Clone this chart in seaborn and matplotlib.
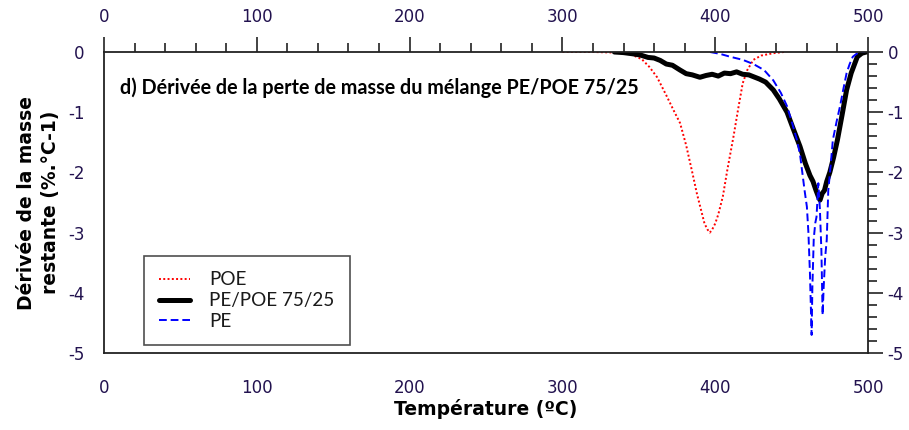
import numpy as np
import pandas as pd
import matplotlib
matplotlib.use("Agg")
import matplotlib.pyplot as plt
from matplotlib.ticker import MultipleLocator
import seaborn as sns

# Temperature (°C) and derivative of remaining mass (%.°C-1)
poe_t = [300, 320, 335, 345, 352, 357, 362, 368, 373, 377, 381, 385, 388, 391, 393,
         395, 396.5, 398, 400, 402, 405, 408, 412, 415, 418, 421, 425, 430, 438, 445]
poe_d = [0.0, 0.0, -0.01, -0.04, -0.12, -0.25, -0.42, -0.72, -0.98, -1.18, -1.55,
         -2.0, -2.35, -2.65, -2.85, -2.95, -3.0, -2.95, -2.85, -2.7, -2.4, -1.95,
         -1.4, -0.95, -0.52, -0.3, -0.13, -0.06, -0.02, 0.0]

blend_t = [334, 340, 346, 351, 356, 360, 364, 368, 372, 377, 381, 385, 390, 394,
           398, 402, 406, 410, 414, 418, 422, 425, 429, 433, 438, 442, 447, 451,
           455.5, 459, 462, 464, 466, 467.5, 468.6, 470, 471.5, 473, 475, 477.5,
           480, 483, 486, 489, 493, 496, 499, 500]
blend_d = [0.0, -0.01, -0.03, -0.05, -0.09, -0.1, -0.14, -0.2, -0.22, -0.3, -0.36,
           -0.38, -0.42, -0.39, -0.37, -0.4, -0.35, -0.36, -0.33, -0.37, -0.38,
           -0.41, -0.45, -0.5, -0.63, -0.78, -1.0, -1.27, -1.57, -1.85, -2.05,
           -2.15, -2.3, -2.4, -2.46, -2.35, -2.3, -2.15, -2.0, -1.75, -1.46, -1.05,
           -0.63, -0.35, -0.08, -0.02, 0.0, 0.0]

pe_t = [396.6, 403, 410, 418, 425, 432, 438, 443, 447, 450, 453.5, 455.5, 457,
        458.5, 460, 461, 462, 463.1, 463.6, 464.5, 465.5, 466.3, 467.5, 468.5,
        469.5, 470.3, 471, 472, 473, 474, 475.5, 477, 479.5, 481.7, 484, 486,
        488, 490, 492.5, 495, 498]
pe_d = [0.0, -0.03, -0.08, -0.13, -0.2, -0.3, -0.47, -0.68, -0.9, -1.15, -1.46,
        -1.7, -2.0, -2.3, -2.57, -3.0, -3.67, -4.7, -3.9, -3.1, -2.84, -2.74,
        -2.18, -2.6, -3.3, -4.37, -3.9, -3.4, -3.12, -2.3, -1.9, -1.46, -1.15,
        -0.9, -0.6, -0.35, -0.2, -0.08, -0.03, 0.0, 0.0]

series_names = ["POE", "PE/POE 75/25", "PE"]
x_ticks = [0, 100, 200, 300, 400, 500]
y_ticks = [0, -1, -2, -3, -4, -5]

sns.set_theme(style="white")
plt.rcParams["axes.unicode_minus"] = False
plt.rcParams["font.family"] = ["DejaVu Sans"]
plt.rcParams["text.color"] = "black"
plt.rcParams["axes.labelcolor"] = "black"

fig = plt.figure(figsize=(9.09, 4.30), dpi=100)
ax = fig.add_axes([104 / 909, 77 / 430, 764 / 909, 301 / 430])

sns.lineplot(x=poe_t, y=poe_d, ax=ax, sort=False, color="#ff0000",
             linestyle=(0, (1, 1.2)), linewidth=1.4, label=series_names[0])
sns.lineplot(x=blend_t, y=blend_d, ax=ax, sort=False, color="black",
             linewidth=3.6, label=series_names[1])
sns.lineplot(x=pe_t, y=pe_d, ax=ax, sort=False, color="#0000ff",
             linestyle=(0, (4, 2)), linewidth=1.4, label=series_names[2])

ax.set_xlim(0, 500)
ax.set_ylim(-5, 0)
ax.set_xticks(x_ticks)
ax.set_yticks(y_ticks)
ax.xaxis.set_minor_locator(MultipleLocator(20))
ax.yaxis.set_minor_locator(MultipleLocator(0.2))

tick_color = "#22124f"
ax.tick_params(axis="both", which="major", direction="out", length=11, width=1.2,
               color="#222222", labelsize=12, labelcolor=tick_color,
               top=True, right=True, labeltop=True, labelright=True)
ax.tick_params(axis="both", which="minor", direction="out", length=6.5, width=1.2,
               color="#222222", top=True, right=True)
ax.tick_params(axis="x", which="major", pad=8)
ax.tick_params(axis="y", which="major", pad=3)

for sp in ax.spines.values():
    sp.set_visible(True)
    sp.set_color("#222222")
    sp.set_linewidth(1.3)

ax.set_xlabel("Température (ºC)", fontsize=13.5, fontweight="bold", color="black")
ax.set_ylabel("Dérivée de la masse\nrestante (%.°C-1)", fontsize=13.5,
              fontweight="bold", linespacing=1.35, color="black")
ax.xaxis.set_label_coords(0.5, -0.153)
ax.yaxis.set_label_coords(-0.057, 0.5)

ax.text(10.5, -0.6, "d) Dérivée de la perte de masse du mélange PE/POE 75/25",
        fontsize=14.2, fontweight="bold", family=["Lato", "DejaVu Sans"],
        color="black", ha="left", va="center")

leg = ax.legend(loc="lower left", bbox_to_anchor=((144 - 104) / 764, (353 - 345) / 301),
                frameon=True, fancybox=False, edgecolor="#222222",
                prop={"family": ["Lato", "DejaVu Sans"], "size": 13.6},
                handlelength=1.65, handletextpad=1.0, borderpad=0.8, labelspacing=0.2,
                borderaxespad=0)
leg.get_frame().set_linewidth(1.2)
for t in leg.get_texts():
    t.set_color("#1a1a1a")

fig.savefig("out.png", dpi=100)
